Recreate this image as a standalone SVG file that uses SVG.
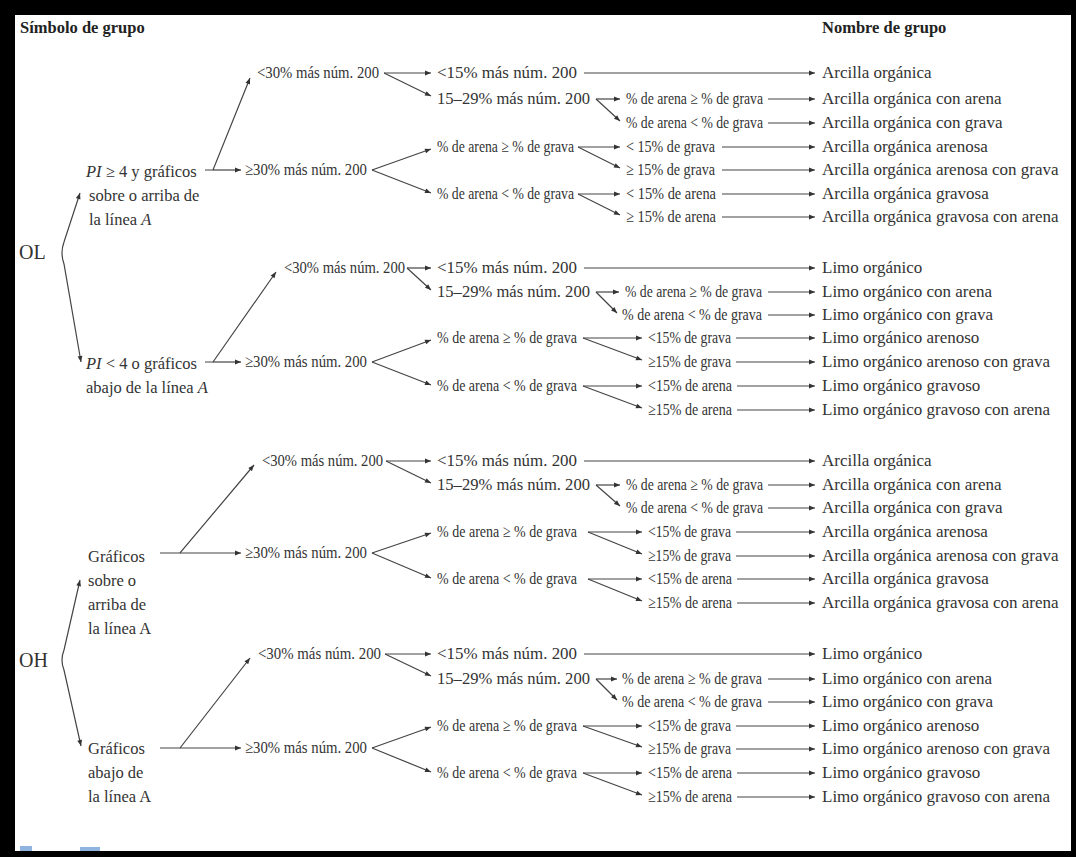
<svg xmlns="http://www.w3.org/2000/svg" width="1076" height="857" viewBox="0 0 1076 857">
<defs>
<style>
.t{font-family:"Liberation Serif","Times New Roman",serif;font-size:17px;fill:#333}
.l{font-size:16.5px}
.h{font-weight:bold;fill:#222;font-size:16.5px}
.big{font-size:20px}
.c{stroke:#444;stroke-width:1.2;fill:none}
.a{marker-end:url(#ar)}
.b{marker-start:url(#ar);marker-end:url(#ar)}
</style>
<marker id="ar" viewBox="0 0 10 10" refX="10" refY="5" markerWidth="7" markerHeight="6" markerUnits="userSpaceOnUse" orient="auto-start-reverse">
<path d="M0,1 L10,5 L0,9 z" fill="#333"/>
</marker>
</defs>
<rect x="0" y="0" width="1076" height="857" fill="#fff"/>

<g id="headers" class="t h">
<text x="20" y="33">Símbolo de grupo</text>
<text x="822" y="33">Nombre de grupo</text>
</g>

<g id="OL" class="t big"><text x="19" y="259">OL</text></g>
<g id="OH" class="t big"><text x="19" y="667">OH</text></g>

<!-- Section 1 -->
<g id="s1-cond" class="t l">
<text x="86" y="177"><tspan font-style="italic">PI</tspan> ≥ 4 y gráficos</text>
<text x="89" y="201">sobre o arriba de</text>
<text x="89" y="225">la línea <tspan font-style="italic">A</tspan></text>
</g>
<g id="s1-lt30" class="t"><text x="257" y="78" textLength="122" lengthAdjust="spacingAndGlyphs">&lt;30% más núm. 200</text></g>
<g id="s1-ge30" class="t"><text x="245" y="175" textLength="122" lengthAdjust="spacingAndGlyphs">≥30% más núm. 200</text></g>
<g id="s1-lt15" class="t"><text x="437" y="78" textLength="140" lengthAdjust="spacingAndGlyphs">&lt;15% más núm. 200</text></g>
<g id="s1-1529" class="t"><text x="437" y="104" textLength="153" lengthAdjust="spacingAndGlyphs">15–29% más núm. 200</text></g>
<g id="s1-a1" class="t"><text x="626" y="104" textLength="137" lengthAdjust="spacingAndGlyphs">% de arena ≥ % de grava</text></g>
<g id="s1-a2" class="t"><text x="626" y="128" textLength="137" lengthAdjust="spacingAndGlyphs">% de arena &lt; % de grava</text></g>
<g id="s1-b1" class="t"><text x="437" y="152" textLength="137" lengthAdjust="spacingAndGlyphs">% de arena ≥ % de grava</text></g>
<g id="s1-b2" class="t"><text x="437" y="199" textLength="137" lengthAdjust="spacingAndGlyphs">% de arena &lt; % de grava</text></g>
<g id="s1-c1" class="t"><text x="626" y="152" textLength="89" lengthAdjust="spacingAndGlyphs">&lt; 15% de grava</text></g>
<g id="s1-c2" class="t"><text x="626" y="175" textLength="89" lengthAdjust="spacingAndGlyphs">≥ 15% de grava</text></g>
<g id="s1-c3" class="t"><text x="626" y="199" textLength="90" lengthAdjust="spacingAndGlyphs">&lt; 15% de arena</text></g>
<g id="s1-c4" class="t"><text x="626" y="222" textLength="90" lengthAdjust="spacingAndGlyphs">≥ 15% de arena</text></g>
<g id="s1-names" class="t">
<text x="822" y="78">Arcilla orgánica</text>
<text x="822" y="104">Arcilla orgánica con arena</text>
<text x="822" y="128">Arcilla orgánica con grava</text>
<text x="822" y="152">Arcilla orgánica arenosa</text>
<text x="822" y="175">Arcilla orgánica arenosa con grava</text>
<text x="822" y="199">Arcilla orgánica gravosa</text>
<text x="822" y="222">Arcilla orgánica gravosa con arena</text>
</g>

<!-- Section 2 -->
<g id="s2-cond" class="t l">
<text x="86" y="369"><tspan font-style="italic">PI</tspan> &lt; 4 o gráficos</text>
<text x="86" y="393">abajo de la línea <tspan font-style="italic">A</tspan></text>
</g>
<g id="s2-lt30" class="t"><text x="284" y="273" textLength="121" lengthAdjust="spacingAndGlyphs">&lt;30% más núm. 200</text></g>
<g id="s2-ge30" class="t"><text x="245" y="367" textLength="122" lengthAdjust="spacingAndGlyphs">≥30% más núm. 200</text></g>
<g id="s2-lt15" class="t"><text x="437" y="273" textLength="140" lengthAdjust="spacingAndGlyphs">&lt;15% más núm. 200</text></g>
<g id="s2-1529" class="t"><text x="437" y="297" textLength="153" lengthAdjust="spacingAndGlyphs">15–29% más núm. 200</text></g>
<g id="s2-a1" class="t"><text x="625" y="297" textLength="137" lengthAdjust="spacingAndGlyphs">% de arena ≥ % de grava</text></g>
<g id="s2-a2" class="t"><text x="622" y="320" textLength="140" lengthAdjust="spacingAndGlyphs">% de arena &lt; % de grava</text></g>
<g id="s2-b1" class="t"><text x="437" y="343" textLength="140" lengthAdjust="spacingAndGlyphs">% de arena ≥ % de grava</text></g>
<g id="s2-b2" class="t"><text x="437" y="391" textLength="140" lengthAdjust="spacingAndGlyphs">% de arena &lt; % de grava</text></g>
<g id="s2-c1" class="t"><text x="648" y="343" textLength="83" lengthAdjust="spacingAndGlyphs">&lt;15% de grava</text></g>
<g id="s2-c2" class="t"><text x="648" y="367" textLength="83" lengthAdjust="spacingAndGlyphs">≥15% de grava</text></g>
<g id="s2-c3" class="t"><text x="648" y="391" textLength="84" lengthAdjust="spacingAndGlyphs">&lt;15% de arena</text></g>
<g id="s2-c4" class="t"><text x="648" y="415" textLength="84" lengthAdjust="spacingAndGlyphs">≥15% de arena</text></g>
<g id="s2-names" class="t">
<text x="822" y="273">Limo orgánico</text>
<text x="822" y="297">Limo orgánico con arena</text>
<text x="822" y="320">Limo orgánico con grava</text>
<text x="822" y="343">Limo orgánico arenoso</text>
<text x="822" y="367">Limo orgánico arenoso con grava</text>
<text x="822" y="391">Limo orgánico gravoso</text>
<text x="822" y="415">Limo orgánico gravoso con arena</text>
</g>

<!-- Section 3 -->
<g id="s3-cond" class="t l">
<text x="88" y="562">Gráficos</text>
<text x="88" y="586">sobre o</text>
<text x="88" y="610">arriba de</text>
<text x="88" y="634">la línea A</text>
</g>
<g id="s3-lt30" class="t"><text x="262" y="466" textLength="121" lengthAdjust="spacingAndGlyphs">&lt;30% más núm. 200</text></g>
<g id="s3-ge30" class="t"><text x="245" y="558" textLength="122" lengthAdjust="spacingAndGlyphs">≥30% más núm. 200</text></g>
<g id="s3-lt15" class="t"><text x="437" y="466" textLength="140" lengthAdjust="spacingAndGlyphs">&lt;15% más núm. 200</text></g>
<g id="s3-1529" class="t"><text x="437" y="490" textLength="153" lengthAdjust="spacingAndGlyphs">15–29% más núm. 200</text></g>
<g id="s3-a1" class="t"><text x="626" y="490" textLength="137" lengthAdjust="spacingAndGlyphs">% de arena ≥ % de grava</text></g>
<g id="s3-a2" class="t"><text x="626" y="513" textLength="137" lengthAdjust="spacingAndGlyphs">% de arena &lt; % de grava</text></g>
<g id="s3-b1" class="t"><text x="437" y="537" textLength="140" lengthAdjust="spacingAndGlyphs">% de arena ≥ % de grava</text></g>
<g id="s3-b2" class="t"><text x="437" y="584" textLength="140" lengthAdjust="spacingAndGlyphs">% de arena &lt; % de grava</text></g>
<g id="s3-c1" class="t"><text x="648" y="537" textLength="83" lengthAdjust="spacingAndGlyphs">&lt;15% de grava</text></g>
<g id="s3-c2" class="t"><text x="648" y="561" textLength="83" lengthAdjust="spacingAndGlyphs">≥15% de grava</text></g>
<g id="s3-c3" class="t"><text x="648" y="584" textLength="84" lengthAdjust="spacingAndGlyphs">&lt;15% de arena</text></g>
<g id="s3-c4" class="t"><text x="648" y="608" textLength="84" lengthAdjust="spacingAndGlyphs">≥15% de arena</text></g>
<g id="s3-names" class="t">
<text x="822" y="466">Arcilla orgánica</text>
<text x="822" y="490">Arcilla orgánica con arena</text>
<text x="822" y="513">Arcilla orgánica con grava</text>
<text x="822" y="537">Arcilla orgánica arenosa</text>
<text x="822" y="561">Arcilla orgánica arenosa con grava</text>
<text x="822" y="584">Arcilla orgánica gravosa</text>
<text x="822" y="608">Arcilla orgánica gravosa con arena</text>
</g>

<!-- Section 4 -->
<g id="s4-cond" class="t l">
<text x="88" y="754">Gráficos</text>
<text x="88" y="778">abajo de</text>
<text x="88" y="802">la línea A</text>
</g>
<g id="s4-lt30" class="t"><text x="258" y="659" textLength="123" lengthAdjust="spacingAndGlyphs">&lt;30% más núm. 200</text></g>
<g id="s4-ge30" class="t"><text x="245" y="753" textLength="122" lengthAdjust="spacingAndGlyphs">≥30% más núm. 200</text></g>
<g id="s4-lt15" class="t"><text x="437" y="659" textLength="140" lengthAdjust="spacingAndGlyphs">&lt;15% más núm. 200</text></g>
<g id="s4-1529" class="t"><text x="437" y="684" textLength="153" lengthAdjust="spacingAndGlyphs">15–29% más núm. 200</text></g>
<g id="s4-a1" class="t"><text x="622" y="684" textLength="140" lengthAdjust="spacingAndGlyphs">% de arena ≥ % de grava</text></g>
<g id="s4-a2" class="t"><text x="622" y="707" textLength="140" lengthAdjust="spacingAndGlyphs">% de arena &lt; % de grava</text></g>
<g id="s4-b1" class="t"><text x="437" y="731" textLength="140" lengthAdjust="spacingAndGlyphs">% de arena ≥ % de grava</text></g>
<g id="s4-b2" class="t"><text x="437" y="778" textLength="140" lengthAdjust="spacingAndGlyphs">% de arena &lt; % de grava</text></g>
<g id="s4-c1" class="t"><text x="648" y="731" textLength="83" lengthAdjust="spacingAndGlyphs">&lt;15% de grava</text></g>
<g id="s4-c2" class="t"><text x="648" y="754" textLength="83" lengthAdjust="spacingAndGlyphs">≥15% de grava</text></g>
<g id="s4-c3" class="t"><text x="648" y="778" textLength="84" lengthAdjust="spacingAndGlyphs">&lt;15% de arena</text></g>
<g id="s4-c4" class="t"><text x="648" y="802" textLength="84" lengthAdjust="spacingAndGlyphs">≥15% de arena</text></g>
<g id="s4-names" class="t">
<text x="822" y="659">Limo orgánico</text>
<text x="822" y="684">Limo orgánico con arena</text>
<text x="822" y="707">Limo orgánico con grava</text>
<text x="822" y="731">Limo orgánico arenoso</text>
<text x="822" y="754">Limo orgánico arenoso con grava</text>
<text x="822" y="778">Limo orgánico gravoso</text>
<text x="822" y="802">Limo orgánico gravoso con arena</text>
</g>

<g id="connectors" class="c">
<!-- brackets -->
<path class="b" d="M80,193 L64,242 Q60,253 64,264 L81,362"/>
<path class="b" d="M80,580 L64,650 Q60,660 64,670 L81,746"/>

<!-- S1 -->
<path class="a" d="M205,170 L213,170 L250,78"/>
<path class="a" d="M213,170 L241,170"/>
<path class="a" d="M384,73 L431,73"/>
<path class="a" d="M384,73 L431,96"/>
<path class="a" d="M584,73 L815,73"/>
<path class="a" d="M596,99 L620,99"/>
<path class="a" d="M596,99 L620,121"/>
<path class="a" d="M768,99 L815,99"/>
<path class="a" d="M768,123 L815,123"/>
<path class="a" d="M372,170 L431,149"/>
<path class="a" d="M372,170 L431,193"/>
<path class="a" d="M578,147 L620,147"/>
<path class="a" d="M578,147 L620,168"/>
<path class="a" d="M722,147 L815,147"/>
<path class="a" d="M722,170 L815,170"/>
<path class="a" d="M578,194 L620,194"/>
<path class="a" d="M578,194 L620,215"/>
<path class="a" d="M722,194 L815,194"/>
<path class="a" d="M722,217 L815,217"/>

<!-- S2 -->
<path class="a" d="M205,362 L213,362 L276,272"/>
<path class="a" d="M213,362 L241,362"/>
<path class="a" d="M407,268 L431,268"/>
<path class="a" d="M407,268 L431,290"/>
<path class="a" d="M584,268 L815,268"/>
<path class="a" d="M596,292 L619,292"/>
<path class="a" d="M596,292 L617,313"/>
<path class="a" d="M768,292 L815,292"/>
<path class="a" d="M768,315 L815,315"/>
<path class="a" d="M372,362 L431,340"/>
<path class="a" d="M372,362 L431,385"/>
<path class="a" d="M583,338 L642,338"/>
<path class="a" d="M583,338 L642,360"/>
<path class="a" d="M736,338 L815,338"/>
<path class="a" d="M736,362 L815,362"/>
<path class="a" d="M583,386 L642,386"/>
<path class="a" d="M583,386 L642,408"/>
<path class="a" d="M737,386 L815,386"/>
<path class="a" d="M737,410 L815,410"/>

<!-- S3 -->
<path class="a" d="M160,553 L180,553 L254,465"/>
<path class="a" d="M180,553 L241,553"/>
<path class="a" d="M386,461 L431,461"/>
<path class="a" d="M386,461 L431,483"/>
<path class="a" d="M584,461 L815,461"/>
<path class="a" d="M596,485 L620,485"/>
<path class="a" d="M596,485 L620,506"/>
<path class="a" d="M768,485 L815,485"/>
<path class="a" d="M768,508 L815,508"/>
<path class="a" d="M372,553 L431,533"/>
<path class="a" d="M372,553 L431,578"/>
<path class="a" d="M588,532 L642,532"/>
<path class="a" d="M588,532 L642,554"/>
<path class="a" d="M736,532 L815,532"/>
<path class="a" d="M736,556 L815,556"/>
<path class="a" d="M588,579 L642,579"/>
<path class="a" d="M588,579 L642,601"/>
<path class="a" d="M737,579 L815,579"/>
<path class="a" d="M737,603 L815,603"/>

<!-- S4 -->
<path class="a" d="M160,748 L180,748 L250,658"/>
<path class="a" d="M180,748 L241,748"/>
<path class="a" d="M385,654 L431,654"/>
<path class="a" d="M385,654 L431,676"/>
<path class="a" d="M584,654 L815,654"/>
<path class="a" d="M596,679 L617,679"/>
<path class="a" d="M596,679 L617,700"/>
<path class="a" d="M768,679 L815,679"/>
<path class="a" d="M768,702 L815,702"/>
<path class="a" d="M372,748 L431,727"/>
<path class="a" d="M372,748 L431,772"/>
<path class="a" d="M583,726 L642,726"/>
<path class="a" d="M583,726 L642,747"/>
<path class="a" d="M736,726 L815,726"/>
<path class="a" d="M736,749 L815,749"/>
<path class="a" d="M583,773 L642,773"/>
<path class="a" d="M583,773 L642,795"/>
<path class="a" d="M737,773 L815,773"/>
<path class="a" d="M737,797 L815,797"/>
</g>

<g id="caption-marks" fill="#8fb4e0">
<rect x="20" y="846" width="12" height="5"/>
<rect x="80" y="847" width="20" height="4"/>
</g>

<g id="frame" fill="#000">
<rect x="0" y="0" width="1076" height="15"/>
<rect x="0" y="0" width="15" height="857"/>
<rect x="1071" y="0" width="5" height="857"/>
<rect x="0" y="851" width="1076" height="6"/>
</g>
</svg>
